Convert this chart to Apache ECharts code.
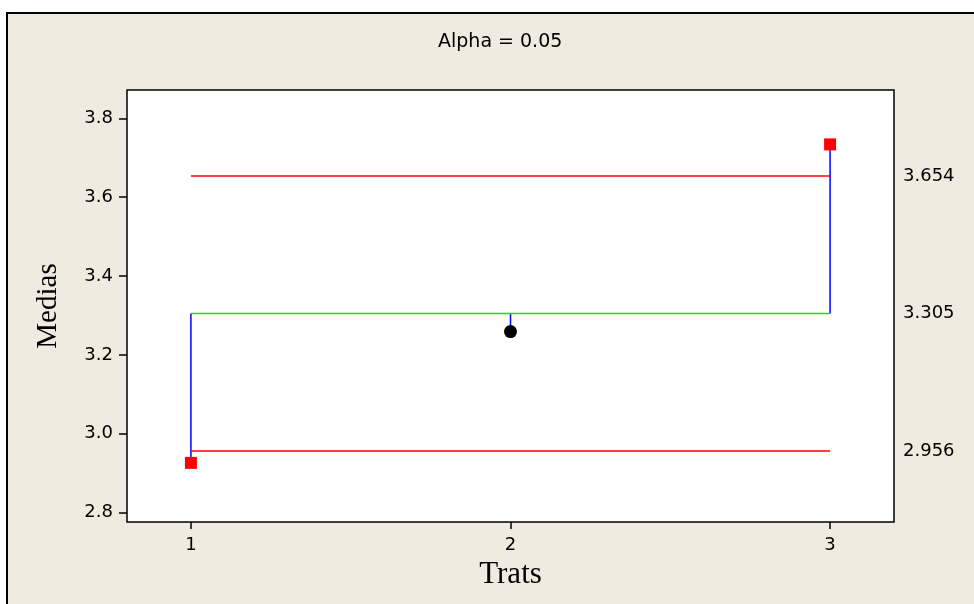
<!DOCTYPE html>
<html>
<head>
<meta charset="utf-8">
<script src="https://cdn.jsdelivr.net/npm/echarts@6/dist/echarts.min.js"></script>
<style>
html,body{margin:0;padding:0;background:#ffffff;}
#chart{width:974px;height:604px;}
</style>
</head>
<body>
<div id="chart"></div>
<script>
// ---- data ----
const trats = [1, 2, 3];
const medias = [2.926, 3.259, 3.734];
const centerLine = 3.305;
const upperLimit = 3.654;
const lowerLimit = 2.956;
const yTicks = [2.8, 3.0, 3.2, 3.4, 3.6, 3.8];
const limitTicks = [2.956, 3.305, 3.654];
const titleText = 'Alpha = 0.05';
const xName = 'Trats';
const yName = 'Medias';

const outOfLimits = medias.map(v => v > upperLimit || v < lowerLimit);

const series = [];
// blue connectors from centre line to each mean
trats.forEach((t, i) => {
  series.push({
    type: 'line', data: [[t, centerLine], [t, medias[i]]],
    symbol: 'none', lineStyle: {color: '#0000ff', width: 1.5}, z: 2, silent: true
  });
});
const xFirst = trats[0], xLast = trats[trats.length - 1];
series.push({type: 'line', data: [[xFirst, upperLimit], [xLast, upperLimit]], symbol: 'none',
  lineStyle: {color: '#ff0000', width: 1.5}, z: 3});
series.push({type: 'line', data: [[xFirst, lowerLimit], [xLast, lowerLimit]], symbol: 'none',
  lineStyle: {color: '#ff0000', width: 1.5}, z: 3});
series.push({type: 'line', data: [[xFirst, centerLine], [xLast, centerLine]], symbol: 'none',
  lineStyle: {color: '#00ee00', width: 1.5}, z: 3});
// means
series.push({
  type: 'scatter', z: 5,
  data: trats.map((t, i) => ({
    value: [t, medias[i]],
    symbol: outOfLimits[i] ? 'rect' : 'circle',
    symbolSize: outOfLimits[i] ? 12 : 13,
    itemStyle: {color: outOfLimits[i] ? '#ff0000' : '#000000', opacity: 1}
  }))
});

const chart = echarts.init(document.getElementById('chart'), null, {renderer: 'canvas'});
chart.setOption({
  backgroundColor: '#ffffff',
  animation: false,
  graphic: [{
    type: 'rect', z: -10,
    shape: {x: 7, y: 13, width: 1000, height: 640},
    style: {fill: '#efebe0', stroke: '#000000', lineWidth: 2}
  }],
  title: {
    text: titleText, left: 433, top: 28,
    textStyle: {fontFamily: 'DejaVu Sans', fontSize: 19, fontWeight: 'normal', color: '#000'}
  },
  grid: {
    left: 127, top: 90, right: 80, bottom: 82,
    show: true, backgroundColor: '#ffffff', borderColor: '#000000', borderWidth: 1.5
  },
  xAxis: {
    type: 'value', min: 0.8, max: 3.2,
    name: xName, nameLocation: 'middle', nameGap: 37,
    nameTextStyle: {fontFamily: 'Liberation Serif', fontSize: 31, color: '#000'},
    axisLine: {show: false},
    splitLine: {show: false},
    axisTick: {show: true, customValues: trats, length: 7, lineStyle: {color: '#000', width: 1.5}},
    axisLabel: {customValues: trats, margin: 14, fontFamily: 'DejaVu Sans', fontSize: 18, color: '#000',
      formatter: v => String(v)}
  },
  yAxis: [{
    type: 'value', min: 2.776, max: 3.872,
    name: yName, nameLocation: 'middle', nameGap: 64, nameRotate: 90,
    nameTextStyle: {fontFamily: 'Liberation Serif', fontSize: 29, color: '#000'},
    axisLine: {show: false},
    splitLine: {show: false},
    axisTick: {show: true, customValues: yTicks, length: 8, lineStyle: {color: '#000', width: 1.5}},
    axisLabel: {customValues: yTicks, margin: 14, fontFamily: 'DejaVu Sans', fontSize: 18, color: '#000',
      formatter: v => v.toFixed(1)}
  }, {
    type: 'value', min: 2.776, max: 3.872, position: 'right',
    axisLine: {show: false}, splitLine: {show: false},
    axisTick: {show: false},
    axisLabel: {customValues: limitTicks, margin: 9, fontFamily: 'DejaVu Sans', fontSize: 18, color: '#000',
      formatter: v => v.toFixed(3)}
  }],
  series: series
});
</script>
</body>
</html>
